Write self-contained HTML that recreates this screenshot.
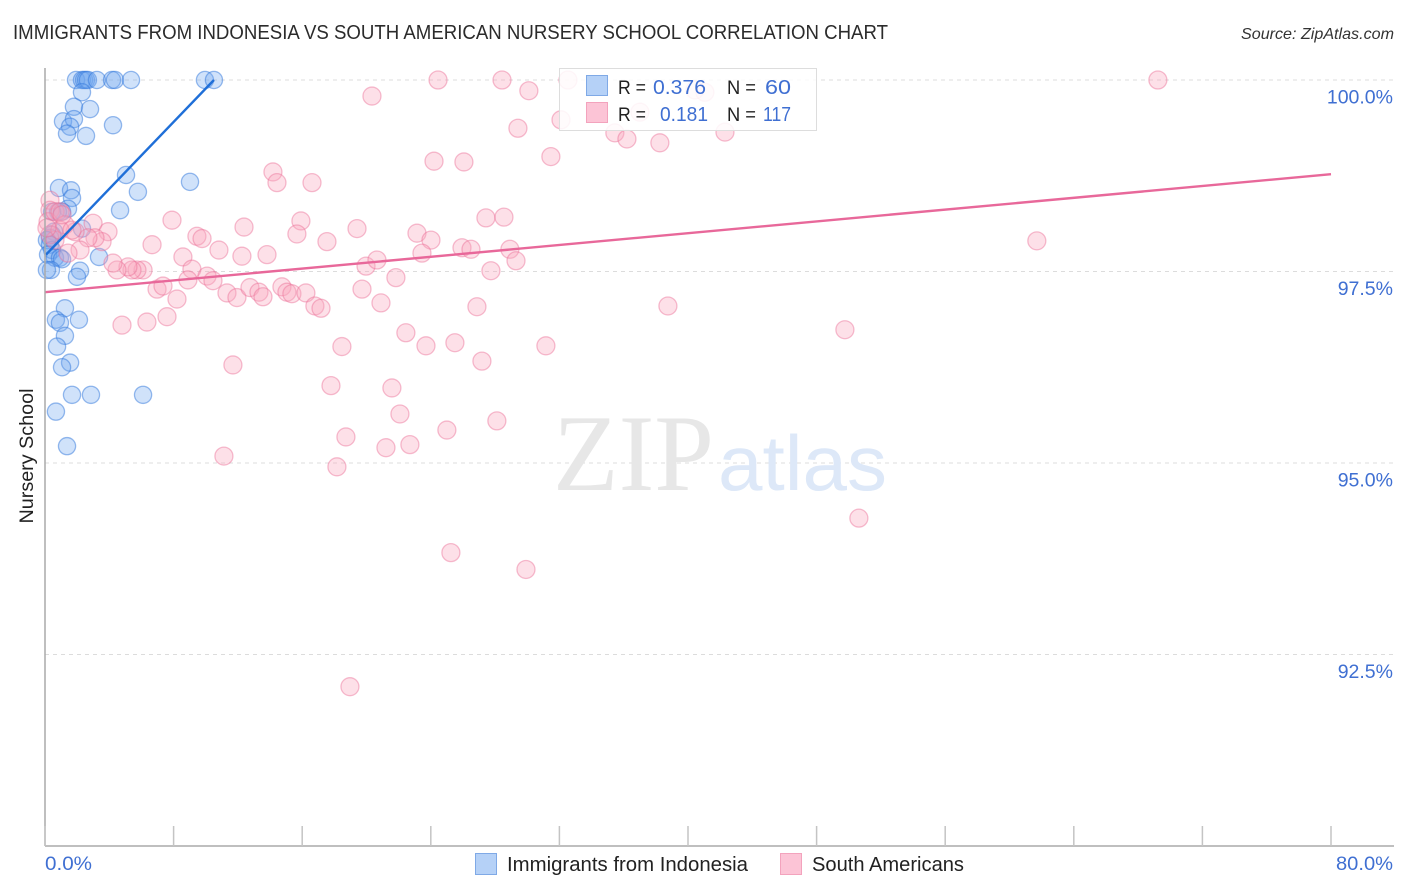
<!DOCTYPE html>
<html lang="en">
<head>
<meta charset="utf-8">
<title>Immigrants from Indonesia vs South American Nursery School Correlation Chart</title>
<style>
html,body{margin:0;padding:0;background:#fff;}
svg{display:block;font-family:"Liberation Sans",sans-serif;}
</style>
</head>
<body>
<svg id="chart" width="1406" height="892" viewBox="0 0 1406 892" xmlns="http://www.w3.org/2000/svg">
  <rect x="0" y="0" width="1406" height="892" fill="#ffffff"/>
  <text x="13" y="39" font-size="20" fill="#2b2b2b" textLength="875" lengthAdjust="spacingAndGlyphs">IMMIGRANTS FROM INDONESIA VS SOUTH AMERICAN NURSERY SCHOOL CORRELATION CHART</text>
  <text x="1394" y="39" font-size="16" font-style="italic" fill="#333" text-anchor="end" textLength="153" lengthAdjust="spacingAndGlyphs">Source: ZipAtlas.com</text>
  <g id="grid"></g>
  <g>
    <text x="553" y="490" font-family="'Liberation Serif',serif" font-size="109" fill="#e7e7e7" textLength="161" lengthAdjust="spacingAndGlyphs">ZIP</text>
    <text x="718" y="490" font-size="78" fill="#dde8f8" textLength="169" lengthAdjust="spacingAndGlyphs">atlas</text>
  </g>
  <g id="points-blue"></g>
  <g id="points-pink"></g>
  <g id="trends"></g>
  <g id="axes">
    <line x1="45" y1="68" x2="45" y2="846" stroke="#aaaaaa" stroke-width="1.5"/>
    <line x1="45" y1="846" x2="1394" y2="846" stroke="#aaaaaa" stroke-width="1.5"/>
  </g>
  <g id="y-labels"></g>
  <text x="0" y="0" transform="translate(33,456) rotate(-90)" font-size="19" fill="#222" text-anchor="middle" textLength="135" lengthAdjust="spacingAndGlyphs">Nursery School</text>
  <text x="45" y="870" font-size="19.5" fill="#3f6fd2" textLength="47" lengthAdjust="spacingAndGlyphs">0.0%</text>
  <text x="1336" y="870" font-size="19.5" fill="#3f6fd2" textLength="57" lengthAdjust="spacingAndGlyphs">80.0%</text>

  <g>
    <rect x="559.5" y="68.5" width="257" height="62" fill="#ffffff" fill-opacity="0.86" stroke="#dddddd" stroke-width="1"/>
    <rect x="586.5" y="75.5" width="21" height="20" fill="#b5d1f7" stroke="#7fa9e6" stroke-width="1"/>
    <rect x="586.5" y="102.5" width="21" height="20" fill="#fcc4d6" stroke="#f3a3bd" stroke-width="1"/>
    <text x="618" y="94" font-size="19.5" fill="#222" textLength="28" lengthAdjust="spacingAndGlyphs">R =</text>
    <text x="653" y="94" font-size="20.5" fill="#3f6fd2" textLength="53" lengthAdjust="spacingAndGlyphs">0.376</text>
    <text x="727" y="94" font-size="19.5" fill="#222" textLength="29" lengthAdjust="spacingAndGlyphs">N =</text>
    <text x="765" y="94" font-size="20.5" fill="#3f6fd2" textLength="26" lengthAdjust="spacingAndGlyphs">60</text>
    <text x="618" y="121" font-size="19.5" fill="#222" textLength="28" lengthAdjust="spacingAndGlyphs">R =</text>
    <text x="660" y="121" font-size="20.5" fill="#3f6fd2" textLength="48" lengthAdjust="spacingAndGlyphs">0.181</text>
    <text x="727" y="121" font-size="19.5" fill="#222" textLength="29" lengthAdjust="spacingAndGlyphs">N =</text>
    <text x="763" y="121" font-size="20.5" fill="#3f6fd2" textLength="28" lengthAdjust="spacingAndGlyphs">117</text>
  </g>

  <g>
    <rect x="475.5" y="853.5" width="21" height="21" fill="#b5d1f7" stroke="#7fa9e6" stroke-width="1"/>
    <text x="507" y="871" font-size="20" fill="#222" textLength="241" lengthAdjust="spacingAndGlyphs">Immigrants from Indonesia</text>
    <rect x="780.5" y="853.5" width="21" height="21" fill="#fcc4d6" stroke="#f3a3bd" stroke-width="1"/>
    <text x="812" y="871" font-size="20" fill="#222" textLength="152" lengthAdjust="spacingAndGlyphs">South Americans</text>
  </g>
</svg>
<script>
// ---- chart data (percent values) ----
const yTickValues = [100, 97.5, 95, 92.5];
const yTickLabels = ["100.0%", "97.5%", "95.0%", "92.5%"];
const xTickValues = [0, 8, 16, 24, 32, 40, 48, 56, 64, 72, 80];

const indonesiaX = [1.93,2.30,2.43,2.55,2.67,3.23,4.17,4.35,5.35,9.95,10.51,2.30,1.80,2.80,1.12,1.80,1.56,1.37,2.55,4.23,5.04,9.02,0.87,1.62,1.68,5.78,1.43,4.67,0.81,0.44,1.06,2.30,0.56,0.44,0.31,0.12,0.31,0.44,0.19,0.62,0.93,1.06,3.36,0.37,0.12,2.18,1.99,1.24,0.68,2.11,0.93,1.24,0.75,1.56,1.06,1.68,2.86,6.10,0.68,1.37];
const indonesiaY = [100,100,100,100,100,100,100,100,100,100,100,99.84,99.65,99.62,99.46,99.49,99.39,99.30,99.27,99.41,98.76,98.67,98.59,98.56,98.46,98.54,98.32,98.30,98.28,98.28,98.28,98.06,98.02,97.98,97.94,97.91,97.85,97.78,97.72,97.68,97.68,97.66,97.69,97.52,97.52,97.51,97.43,97.02,96.87,96.87,96.83,96.66,96.52,96.31,96.25,95.89,95.89,95.89,95.67,95.22];

const southAmericanX = [24.45,28.43,32.53,69.23,20.34,30.10,29.42,32.10,35.45,36.20,38.25,42.30,31.47,24.20,26.06,37.01,40.43,41.05,14.18,14.43,16.61,7.90,12.38,15.92,15.67,9.45,9.77,19.41,17.54,23.14,24.01,27.43,28.55,25.94,26.50,28.92,29.30,27.74,23.45,19.97,20.65,21.83,61.70,6.66,10.82,12.25,13.81,8.58,9.14,10.08,8.89,10.45,6.10,5.72,5.41,5.16,4.48,4.23,3.92,3.55,2.99,3.11,2.67,1.87,2.18,1.43,6.97,7.34,8.21,7.59,6.34,4.79,11.32,11.94,12.75,13.31,13.56,14.74,15.05,15.36,16.23,16.79,17.17,19.72,20.90,26.87,38.75,49.76,22.45,23.70,25.50,31.16,18.47,27.18,11.69,17.79,21.58,22.08,28.11,18.72,25.00,21.21,22.70,11.13,18.16,50.63,25.25,29.92,18.97,0.31,0.31,0.19,0.62,0.93,1.24,0.31,0.62,0.93,0.12,1.06,1.68];
const southAmericanY = [100,100,100,100,99.79,99.86,99.37,99.48,99.31,99.23,99.18,99.32,99.00,98.94,98.93,99.58,99.87,99.84,98.80,98.66,98.66,98.17,98.08,98.16,97.99,97.96,97.93,98.06,97.89,98.00,97.91,98.20,98.21,97.81,97.79,97.79,97.64,97.51,97.74,97.57,97.65,97.42,97.90,97.85,97.78,97.70,97.72,97.69,97.53,97.44,97.39,97.38,97.52,97.52,97.52,97.56,97.52,97.61,98.02,97.89,98.13,97.94,97.94,98.02,97.78,97.74,97.27,97.31,97.14,96.91,96.84,96.80,97.22,97.16,97.29,97.23,97.17,97.30,97.23,97.21,97.22,97.05,97.02,97.27,97.09,97.04,97.05,96.74,96.70,96.53,96.57,96.53,96.52,96.33,96.28,96.01,95.98,95.64,95.55,95.34,95.43,95.20,95.24,95.09,94.95,94.28,93.83,93.61,92.08,98.43,98.30,98.15,98.28,98.28,98.11,97.98,97.91,98.04,98.07,98.24,98.04];

const indonesiaTrendX = [0.06, 10.51];
const indonesiaTrendY = [97.72, 100];
const southAmericanTrendX = [0, 80];
const southAmericanTrendY = [97.23, 98.77];

// ---- axis functions ----
const NS = "http://www.w3.org/2000/svg";
function xScale(v) { return 45 + (v / 80) * 1286; }
function yScale(v) { return 80 + (100 - v) * 76.6; }

function make(tag, attrs, parent) {
  const el = document.createElementNS(NS, tag);
  for (const k in attrs) el.setAttribute(k, attrs[k]);
  parent.appendChild(el);
  return el;
}

const grid = document.getElementById("grid");
const yLabels = document.getElementById("y-labels");
yTickValues.forEach(function (v, i) {
  const gl = make("line", {x1: 45, x2: 1394, y1: yScale(v), y2: yScale(v), stroke: "#dcdcdc", "stroke-width": 1, "stroke-dasharray": "4 4"}, grid);
  
  
  const t = make("text", {x: 1393, y: yScale(v) + 23.5, "font-size": 19.5, fill: "#3f6fd2", "text-anchor": "end"}, yLabels);
  
  
  t.textContent = yTickLabels[i];
});

const axes = document.getElementById("axes");
xTickValues.forEach(function (v) {
  const tk = make("line", {x1: xScale(v), x2: xScale(v), y1: 826, y2: 846, stroke: "#c4c4c4", "stroke-width": 1.5}, axes);
  
  
});

const blueGroup = document.getElementById("points-blue");
indonesiaX.forEach(function (v, i) {
  const c = make("circle", {cx: xScale(v), cy: yScale(indonesiaY[i]), r: 8.6, fill: "rgba(110,165,238,0.32)", stroke: "rgba(50,120,220,0.50)", "stroke-width": 1.3}, blueGroup);
  
  
});

const pinkGroup = document.getElementById("points-pink");
southAmericanX.forEach(function (v, i) {
  const c = make("circle", {cx: xScale(v), cy: yScale(southAmericanY[i]), r: 9, fill: "rgba(250,165,190,0.35)", stroke: "rgba(235,110,150,0.45)", "stroke-width": 1.3}, pinkGroup);
  
  
});

const trends = document.getElementById("trends");
const blueTrend = make("line", {x1: xScale(indonesiaTrendX[0]), y1: yScale(indonesiaTrendY[0]), x2: xScale(indonesiaTrendX[1]), y2: yScale(indonesiaTrendY[1]), stroke: "#1f6fd8", "stroke-width": 2.4}, trends);


const pinkTrend = make("line", {x1: xScale(southAmericanTrendX[0]), y1: yScale(southAmericanTrendY[0]), x2: xScale(southAmericanTrendX[1]), y2: yScale(southAmericanTrendY[1]), stroke: "#e8689a", "stroke-width": 2.4}, trends);


</script>
</body>
</html>
